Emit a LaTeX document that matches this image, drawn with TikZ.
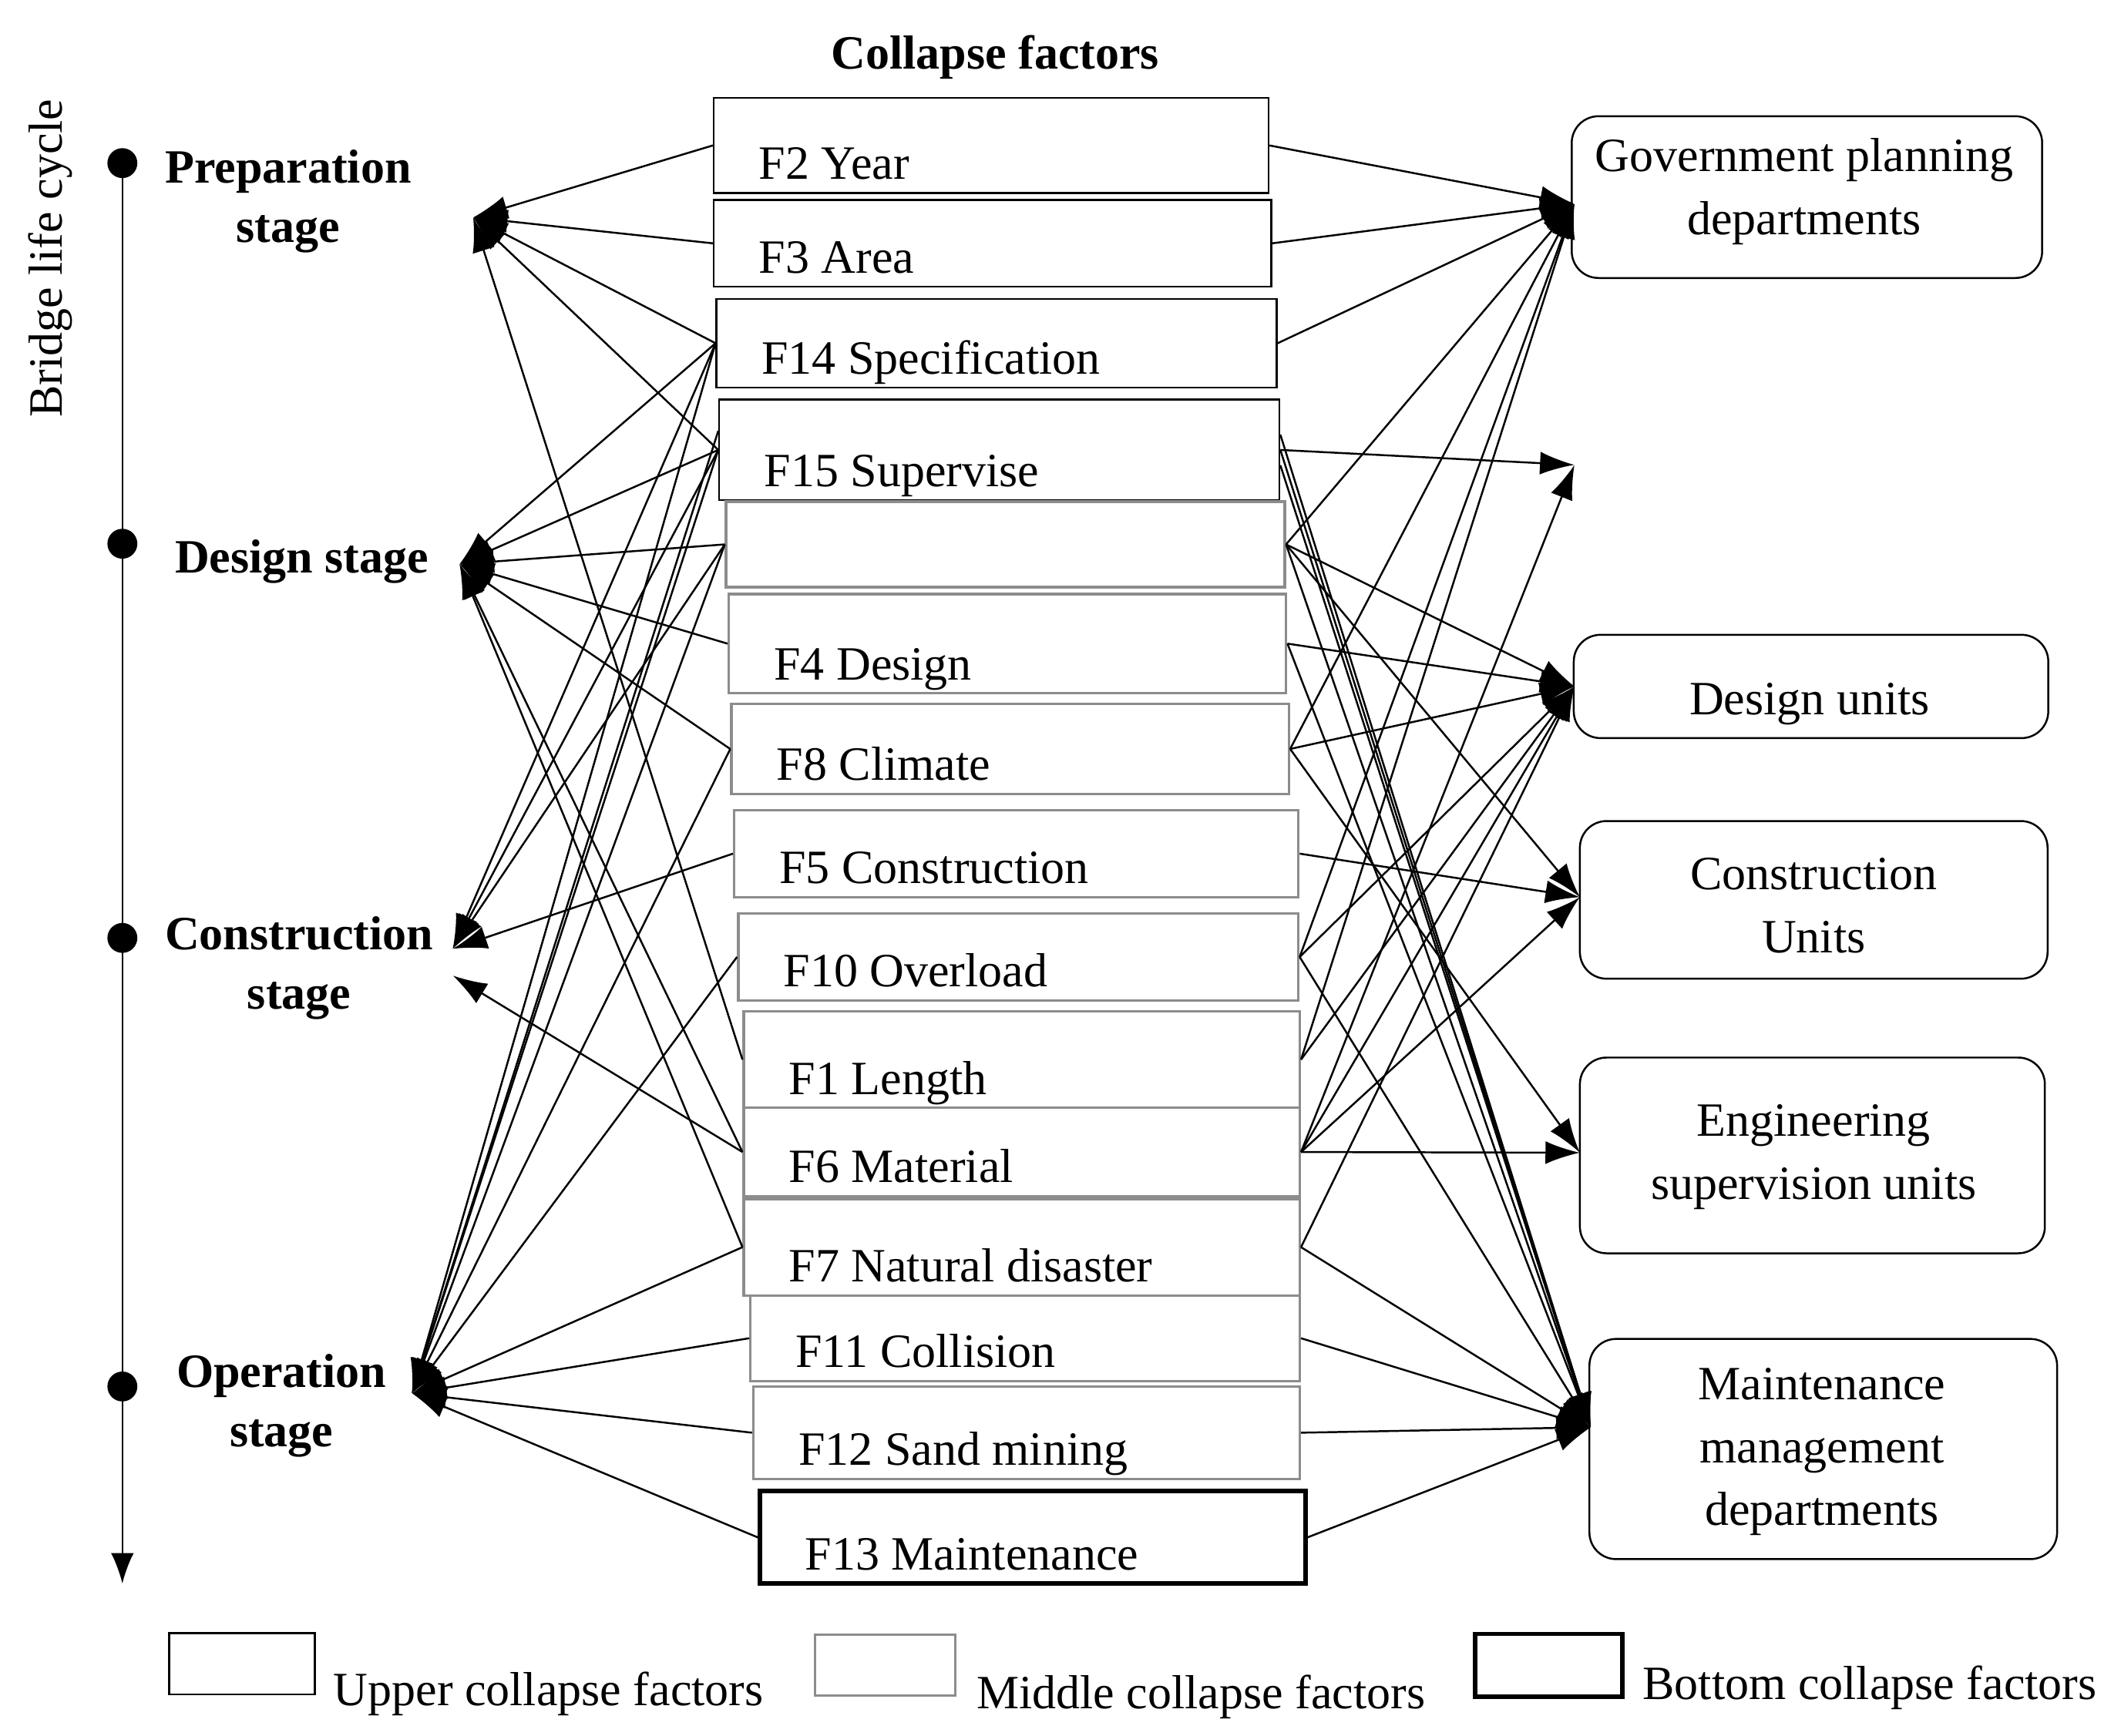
\documentclass[tikz,border=0pt]{standalone}
\usepackage{fontspec}
\setmainfont{Liberation Serif}
\usetikzlibrary{arrows.meta}
\begin{document}
\begin{tikzpicture}[x=0.025cm,y=-0.025cm,
  upper/.style={draw=black,line width=1pt},
  middle/.style={draw=black!45,line width=1.3pt},
  bottom/.style={draw=black,line width=2.4pt},
  lbl/.style={font=\fontsize{25}{29}\selectfont,inner sep=0},
  stage/.style={font=\fontsize{25}{31}\selectfont\bfseries,align=center,inner sep=0},
  rbox/.style={draw,rounded corners=14pt,line width=1pt},
  con/.style={line width=1pt,-{Latex[length=18pt,width=12pt]}}]
\useasboundingbox (0,0) rectangle (1560,1277);
\newcommand{\factor}[7]{%
  \node[#6,inner sep=0,minimum width={(#4-#2)*0.025cm},minimum height={(#5-#3)*0.025cm}] (#1) at ({(#2+#4)/2},{(#3+#5)/2}) {};
  \node[lbl,anchor=base west] (#1t) at ({#2+33},{#5-10}) {#7};}
% timeline
\coordinate (t0) at (90,120);
\coordinate (t1) at (90,1165);
\draw[line width=1pt,-{Latex[length=16pt,width=12pt]}] (t0) -- (t1);
\foreach \y/\n in {120/a,400/b,690/c,1020/d}{\fill (90,\y) circle (11);}
\node[lbl,rotate=90] (blc) at (37,190) {Bridge life cycle};
\node[stage] (ps) at (212,148) {Preparation\\stage};
\node[stage] (ds) at (222,413) {Design stage};
\node[stage] (cs) at (220,712) {Construction\\stage};
\node[stage] (os) at (207,1034) {Operation\\stage};
\node[stage] (cf) at (732,42) {Collapse factors};
\coordinate (P) at (348,160);
\coordinate (D) at (338,415);
\coordinate (C) at (333,698);
\coordinate (O) at (303,1025);
\coordinate (G) at (1158,150);
\coordinate (E) at (1158,342);
\coordinate (DU) at (1158,505);
\coordinate (CU) at (1162,660);
\coordinate (EU) at (1162,848);
\coordinate (M) at (1170,1050);
% factor boxes
\factor{f2}{525}{72}{933}{142}{upper}{F2 Year}
\factor{f3}{525}{147}{935}{211}{upper}{F3 Area}
\factor{f14}{527}{220}{939}{285}{upper}{F14 Specification}
\factor{f15}{529}{294}{941}{368}{upper}{F15 Supervise}
\factor{fe}{534}{369}{945}{432}{middle}{}
\factor{f4}{536}{437}{946}{510}{middle}{F4 Design}
\factor{f8}{538}{518}{948}{584}{middle}{F8 Climate}
\factor{f5}{540}{596}{955}{660}{middle}{F5 Construction}
\factor{f10}{543}{672}{955}{736}{middle}{F10 Overload}
\factor{f1}{547}{744}{956}{815}{middle}{F1 Length}
\factor{f6}{547}{815}{956}{880}{middle}{F6 Material}
\factor{f7}{547}{882}{956}{953}{middle}{F7 Natural disaster}
\factor{f11}{552}{953}{956}{1016}{middle}{F11 Collision}
\factor{f12}{554}{1020}{956}{1088}{middle}{F12 Sand mining}
\factor{f13}{559}{1097}{960}{1165}{bottom}{F13 Maintenance}
% right boxes
\node[rbox,minimum width={346*0.025cm},minimum height={119*0.025cm}] (gov) at (1329,145) {};
\node[lbl,align=center] (govt) at (1327,141) {Government planning\\[4pt]departments};
\node[rbox,minimum width={349*0.025cm},minimum height={76*0.025cm}] (du) at (1332,505) {};
\node[lbl] (dut) at (1331,518) {Design units};
\node[rbox,minimum width={344*0.025cm},minimum height={116*0.025cm}] (cu) at (1334,662) {};
\node[lbl,align=center] (cut) at (1334,666) {Construction\\[4pt]Units};
\node[rbox,minimum width={342*0.025cm},minimum height={144*0.025cm}] (eu) at (1333,850) {};
\node[lbl,align=center] (eut) at (1334,851) {Engineering\\[4pt]supervision units};
\node[rbox,minimum width={344*0.025cm},minimum height={162*0.025cm}] (mu) at (1341,1066) {};
\node[lbl,align=center] (mut) at (1340,1068) {Maintenance\\[4pt]management\\[4pt]departments};
% left connectors
\foreach \b in {f2,f3,f14,f15,f1} \draw[con] (\b.west) -- (P);
\foreach \b in {f14,f15,fe,f4,f8,f6,f7} \draw[con] (\b.west) -- (D);
\foreach \b in {f14,f15,fe,f5} \draw[con] (\b.west) -- (C);
\draw[con] (f6.west) -- ([yshift=-14]C);
\foreach \b in {f14,f15,fe,f8,f10,f7,f11,f12,f13} \draw[con] (\b.west) -- (O);
\draw[con] ([yshift=10]f15.west) -- (O);
% right connectors
\foreach \b in {f2,f3,f14,fe,f8,f10,f1} \draw[con] (\b.east) -- (G);
\foreach \b in {f15,f6} \draw[con] (\b.east) -- (E);
\foreach \b in {fe,f4,f8,f10,f1,f6,f7} \draw[con] (\b.east) -- (DU);
\foreach \b in {fe,f5,f6} \draw[con] (\b.east) -- (CU);
\foreach \b in {f8,f6} \draw[con] (\b.east) -- (EU);
\foreach \b in {f15,fe,f4,f10,f7,f11,f12,f13} \draw[con] (\b.east) -- (M);
\draw[con] ([yshift=8]f15.east) -- (M);
\draw[con] ([yshift=-8]f15.east) -- (M);
% legend
\node[upper,inner sep=0,minimum width={107*0.025cm},minimum height={45*0.025cm}] (l1) at (178,1224) {};
\node[lbl,anchor=base west] (l1t) at (245,1255) {Upper collapse factors};
\node[middle,inner sep=0,minimum width={103*0.025cm},minimum height={45*0.025cm}] (l2) at (651,1225) {};
\node[lbl,anchor=base west] (l2t) at (718,1257) {Middle collapse factors};
\node[bottom,inner sep=0,minimum width={108*0.025cm},minimum height={46*0.025cm}] (l3) at (1139,1225) {};
\node[lbl,anchor=base west] (l3t) at (1208,1250) {Bottom collapse factors};
\end{tikzpicture}
\end{document}
